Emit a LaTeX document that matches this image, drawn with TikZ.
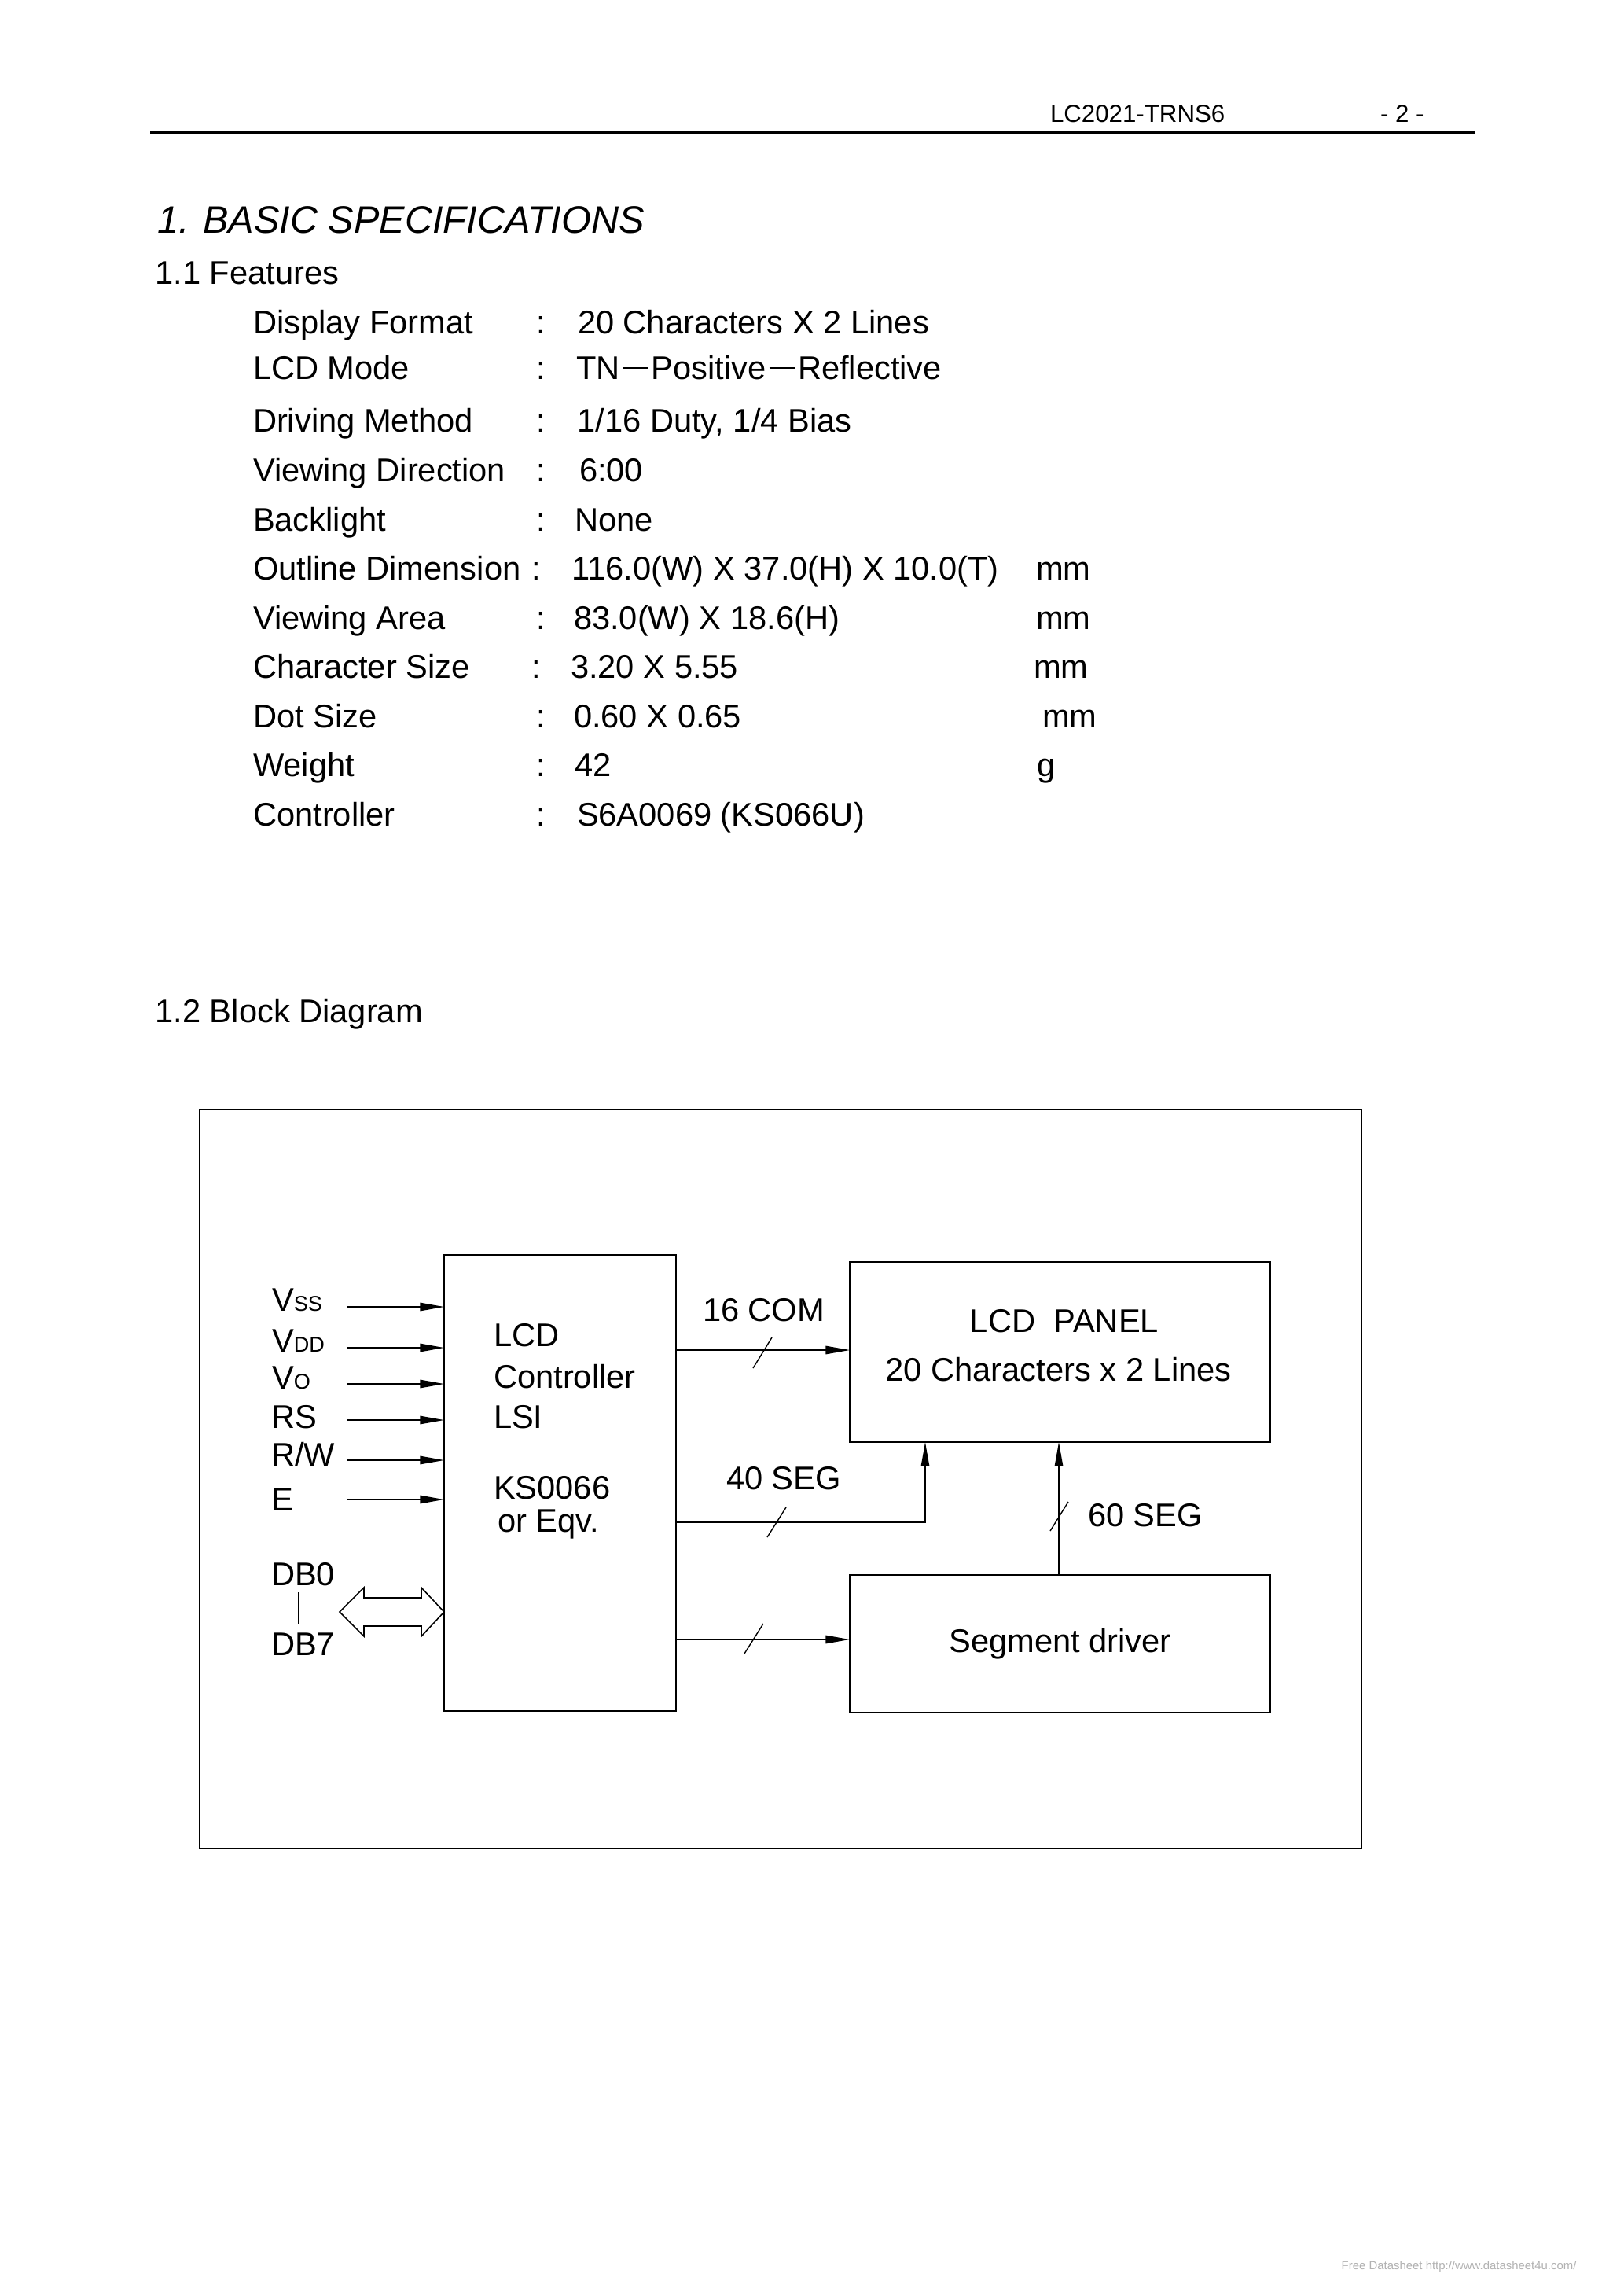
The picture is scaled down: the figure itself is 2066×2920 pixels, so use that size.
\documentclass[tikz,border=0pt]{standalone}
\usepackage{fontspec}
\setmainfont{Liberation Sans}
\usetikzlibrary{arrows.meta}
\newcommand\fwdash{\makebox[11.6pt][c]{\rule[4.1pt]{9.3pt}{0.45pt}}}
\newcommand\subfs{\fontsize{7.8}{9}\selectfont}
\begin{document}
\begin{tikzpicture}[x=0.288pt, y=-0.288pt,
  txt/.style={anchor=base west, inner sep=0pt, outer sep=0pt, font=\fontsize{12}{14}\selectfont},
  ctxt/.style={anchor=base, inner sep=0pt, outer sep=0pt, font=\fontsize{12}{14}\selectfont},
  hdr/.style={anchor=base west, inner sep=0pt, outer sep=0pt, font=\fontsize{9}{11}\selectfont},
  blk/.style={draw, line width=0.45pt, inner sep=0pt, outer sep=0pt},
  wire/.style={line width=0.45pt},
  arr/.style={line width=0.45pt, -{Triangle[length=8.8pt,width=3pt]}},
  slashln/.style={line width=0.4pt}]
\useasboundingbox (0,0) rectangle (2066,2920);
\fill[white] (0,0) rectangle (2066,2920);

% header
\node[hdr] (hdrid) at (1336,156) {LC2021-TRNS6};
\node[hdr] (hdrpg) at (1756,156) {- 2 -};
\draw[line width=1.15pt] (191,168) -- (1876,168);

% titles
\node[txt, font=\fontsize{14}{16}\selectfont\itshape] (title) at (200,297) {1. BASIC SPECIFICATIONS};
\node[txt] (feat) at (197.5,362) {1.1 Features};

% features table
\node[txt] (l1) at (322,425) {Display Format};
\node[txt] (c1) at (682,425) {:};
\node[txt] (v1) at (735,425) {20 Characters X 2 Lines};

\node[txt] (l2) at (322,483) {LCD Mode};
\node[txt] (c2) at (682,483) {:};
\node[txt] (v2) at (733,483) {TN\fwdash Positive\fwdash Reflective};

\node[txt] (l3) at (322,549) {Driving Method};
\node[txt] (c3) at (682,549) {:};
\node[txt] (v3) at (734.5,549) {1/16 Duty, 1/4 Bias};

\node[txt] (l4) at (322,612) {Viewing Direction};
\node[txt] (c4) at (682,612) {:};
\node[txt] (v4) at (737,612) {6:00};

\node[txt] (l5) at (322,675) {Backlight};
\node[txt] (c5) at (682,675) {:};
\node[txt] (v5) at (731,675) {None};

\node[txt] (l6) at (322,737) {Outline Dimension};
\node[txt] (c6) at (676,737) {:};
\node[txt] (v6) at (727.5,737) {116.0(W) X 37.0(H) X 10.0(T)};
\node[txt] (u6) at (1318,737) {mm};

\node[txt] (l7) at (322,800) {Viewing Area};
\node[txt] (c7) at (682,800) {:};
\node[txt] (v7) at (730,800) {83.0(W) X 18.6(H)};
\node[txt] (u7) at (1318,800) {mm};

\node[txt] (l8) at (322,862) {Character Size};
\node[txt] (c8) at (676,862) {:};
\node[txt] (v8) at (726,862) {3.20 X 5.55};
\node[txt] (u8) at (1315,862) {mm};

\node[txt] (l9) at (322,925) {Dot Size};
\node[txt] (c9) at (682,925) {:};
\node[txt] (v9) at (730,925) {0.60 X 0.65};
\node[txt] (u9) at (1326,925) {mm};

\node[txt] (l10) at (322,987) {Weight};
\node[txt] (c10) at (682,987) {:};
\node[txt] (v10) at (731,987) {42};
\node[txt] (u10) at (1319,987) {g};

\node[txt] (l11) at (322,1050) {Controller};
\node[txt] (c11) at (682,1050) {:};
\node[txt] (v11) at (734,1050) {S6A0069 (KS066U)};

\node[txt] (bd) at (197.5,1300) {1.2 Block Diagram};

% block diagram frame and blocks
\node[blk, minimum width=1478*0.288pt, minimum height=940*0.288pt] (frame) at (993,1881) {};
\node[blk, minimum width=295*0.288pt, minimum height=580*0.288pt] (ctrl) at (712.5,1886) {};
\node[blk, minimum width=535*0.288pt, minimum height=229*0.288pt] (panel) at (1348.5,1719.5) {};
\node[blk, minimum width=535*0.288pt, minimum height=175*0.288pt] (segdrv) at (1348.5,2090.5) {};

% controller text
\node[txt] (t1) at (628,1712) {LCD};
\node[txt] (t2) at (628,1765) {Controller};
\node[txt] (t3) at (628,1816) {LSI};
\node[txt] (t4) at (628,1906) {KS0066};
\node[txt] (t5) at (633,1948) {or Eqv.};

% panel / driver text
\node[ctxt] (p1) at (1354,1694) {LCD~~PANEL};
\node[ctxt] (p2) at (1346.5,1756) {20 Characters x 2 Lines};
\node[ctxt] (s1) at (1348.5,2101.5) {Segment driver};

% input labels
\node[txt] (lvss) at (346,1667) {V{\subfs SS}};
\node[txt] (lvdd) at (346,1719) {V{\subfs DD}};
\node[txt] (lvo)  at (346,1766) {V{\subfs O}};
\node[txt] (lrs)  at (345,1816) {RS};
\node[txt] (lrw)  at (345,1864) {R/W};
\node[txt] (le)   at (345,1921) {E};
\node[txt] (ldb0) at (345,2016) {DB0};
\node[txt] (ldb7) at (345,2105) {DB7};

% input arrows
\coordinate (ivss) at (442,1662);
\coordinate (ivdd) at (442,1714);
\coordinate (ivo)  at (442,1760);
\coordinate (irs)  at (442,1806);
\coordinate (irw)  at (442,1857);
\coordinate (ie)   at (442,1907);
\foreach \c in {ivss,ivdd,ivo,irs,irw,ie}
  \draw[arr] (\c) -- (\c -| ctrl.west);

% DB0 - DB7 bar
\coordinate (dbtop) at (379.5,2025);
\coordinate (dbbot) at (379.5,2066);
\draw[wire] (dbtop) -- (dbbot);

% hollow double arrow
\coordinate (dbl) at (432,2050);
\coordinate (dbr) at (dbl -| ctrl.west);
\draw[wire, line join=miter] (dbl) -- (463,2019) -- (463,2032) -- (536,2032) -- (536,2019)
  -- (dbr) -- (536,2081) -- (536,2068) -- (463,2068) -- (463,2081) -- cycle;

% 16 COM
\coordinate (ycom) at (0,1717);
\draw[arr] (ctrl.east |- ycom) -- (panel.west |- ycom);
\draw[slashln] (958,1740) -- (982,1701);
\node[txt] (lcom) at (894,1680) {16 COM};

% 40 SEG
\coordinate (c40) at (1177,1936);
\draw[arr] (ctrl.east |- c40) -- (c40) -- (c40 |- panel.south);
\draw[slashln] (976,1955) -- (1000,1917);
\node[txt] (l40) at (924,1894) {40 SEG};

% 60 SEG
\coordinate (c60) at (1347,2003);
\draw[arr] (c60 |- segdrv.north) -- (c60 |- panel.south);
\draw[slashln] (1336,1947) -- (1359,1910);
\node[txt] (l60) at (1384,1941) {60 SEG};

% to segment driver
\coordinate (ysd) at (0,2085);
\draw[arr] (ctrl.east |- ysd) -- (segdrv.west |- ysd);
\draw[slashln] (947,2103) -- (971,2065);

% footer watermark
\node[anchor=base west, inner sep=0pt, text=black!30, font=\fontsize{4.3}{5}\selectfont] (foot) at (1706,2886) {Free Datasheet http://www.datasheet4u.com/};
\end{tikzpicture}
\end{document}
